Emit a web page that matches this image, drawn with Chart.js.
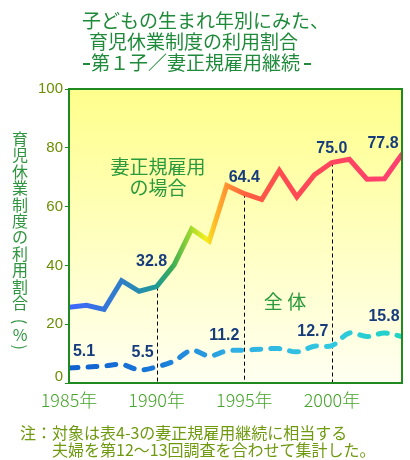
<!DOCTYPE html>
<html>
<head>
<meta charset="utf-8">
<script src="https://cdn.jsdelivr.net/npm/chart.js@4.4.1/dist/chart.umd.min.js"></script>
<style>
  html, body { margin: 0; padding: 0; background: #ffffff; }
  #wrap { width: 410px; height: 460px; position: relative; }
</style>
</head>
<body>
<div id="wrap"><canvas id="chart" width="410" height="460"></canvas></div>
<script>
// données
const years = [1985, 1986, 1987, 1988, 1989, 1990, 1991, 1992, 1993, 1994,
               1995, 1996, 1997, 1998, 1999, 2000, 2001, 2002, 2003, 2004];
const regularValues = [25.8, 26.4, 25.0, 34.8, 31.2, 32.8, 40.2, 52.4, 48.3, 67.2,
                       64.4, 62.4, 72.3, 63.3, 70.8, 75.0, 76.1, 69.3, 69.5, 77.8];
const allValues = [5.1, 5.4, 5.8, 6.3, 4.5, 5.5, 7.5, 11.1, 9.2, 10.9,
                   11.2, 11.5, 11.7, 10.6, 12.5, 12.7, 17.0, 15.8, 17.0, 15.8];
const xTicks = [1985, 1990, 1995, 2000];
const yTicks = [0, 20, 40, 60, 80, 100];
const regularLabelYears = [1990, 1995, 2000, 2004];
const allLabelYears = [1985, 1990, 1995, 2000, 2004];
const markerYears = [1990, 1995, 2000];

const titleLines = ['子どもの生まれ年別にみた、', '育児休業制度の利用割合', '第１子／妻正規雇用継続'];
const yTitleChars = ['育', '児', '休', '業', '制', '度', 'の', '利', '用', '割', '合', '(', '%', ')'];
const noteLines = ['注：対象は表4-3の妻正規雇用継続に相当する', '夫婦を第12～13回調査を合わせて集計した。'];

const GREEN = '#1e8a3a';
const JP = '"Noto Sans CJK JP", "Noto Sans", sans-serif';
const TICK_FONT = '"Liberation Sans", Arial, sans-serif';

function hGradient(chart, stops) {
  const { ctx, chartArea } = chart;
  if (!chartArea) return null;
  const g = ctx.createLinearGradient(chartArea.left, 0, chartArea.right, 0);
  stops.forEach(s => g.addColorStop(s[0], s[1]));
  return g;
}

// Fond, cadre, textes et étiquettes
const decorPlugin = {
  id: 'decor',
  beforeDraw(chart) {
    const { ctx, chartArea: a } = chart;
    ctx.save();
    const g = ctx.createLinearGradient(0, a.top, 0, a.bottom);
    g.addColorStop(0, '#ffff8c');
    g.addColorStop(1, '#fffff2');
    ctx.fillStyle = g;
    ctx.fillRect(a.left, a.top, a.right - a.left, a.bottom - a.top);
    ctx.restore();
  },
  beforeDatasetsDraw(chart) {
    const { ctx, chartArea: a, scales } = chart;
    ctx.save();
    ctx.strokeStyle = '#000000';
    ctx.lineWidth = 1;
    ctx.setLineDash([4, 3]);
    markerYears.forEach(yr => {
      const i = years.indexOf(yr);
      const x = Math.round(scales.x.getPixelForValue(yr)) + 0.5;
      ctx.beginPath();
      ctx.moveTo(x, scales.y.getPixelForValue(regularValues[i]));
      ctx.lineTo(x, a.bottom);
      ctx.stroke();
    });
    ctx.restore();
  },
  afterDatasetsDraw(chart) {
    const { ctx, chartArea: a, scales } = chart;
    ctx.save();
    // cadre vert
    ctx.strokeStyle = '#1f8a1f';
    ctx.lineWidth = 2;
    ctx.strokeRect(a.left, a.top, a.right - a.left, a.bottom - a.top);

    // étiquettes de valeurs
    ctx.fillStyle = '#163c7c';
    ctx.font = 'bold 16px ' + TICK_FONT;
    ctx.textAlign = 'center';
    ctx.textBaseline = 'middle';
    const regOff = { 1990: [-5, -25], 1995: [0, -16], 2000: [0, -14], 2004: [-19, -11] };
    regularLabelYears.forEach(yr => {
      const i = years.indexOf(yr);
      const x = scales.x.getPixelForValue(yr) + regOff[yr][0];
      const y = scales.y.getPixelForValue(regularValues[i]) + regOff[yr][1];
      ctx.fillText(regularValues[i].toFixed(1), x, y);
    });
    const allOff = { 1985: [15, -16], 1990: [-14, -14], 1995: [-20, -14], 2000: [-19, -14], 2004: [-18, -20] };
    allLabelYears.forEach(yr => {
      const i = years.indexOf(yr);
      const x = scales.x.getPixelForValue(yr) + allOff[yr][0];
      const y = scales.y.getPixelForValue(allValues[i]) + allOff[yr][1];
      ctx.fillText(allValues[i].toFixed(1), x, y);
    });

    // libellés des séries
    ctx.fillStyle = '#2a9a3c';
    ctx.font = '19px ' + JP;
    ctx.fillText('妻正規雇用', 158, 167);
    ctx.fillText('の場合', 158, 188);
    ctx.fillText('全 体', 285, 302);

    // le « 0 » de l'axe Y est un peu remonté dans l'original
    ctx.fillStyle = '#6b8f00';
    ctx.font = '15px ' + TICK_FONT;
    ctx.textAlign = 'right';
    ctx.fillText('0', 63, scales.y.getPixelForValue(0) - 6);
    ctx.restore();
  },
  afterDraw(chart) {
    const { ctx } = chart;
    ctx.save();
    // titre
    ctx.fillStyle = GREEN;
    ctx.font = '19px ' + JP;
    ctx.textAlign = 'left';
    ctx.textBaseline = 'middle';
    ctx.fillText(titleLines[0], 82, 21);
    ctx.fillText(titleLines[1], 89, 42);
    ctx.fillText(titleLines[2], 91, 63);
    ctx.fillRect(83, 63, 7, 2);
    ctx.fillRect(304, 63, 7, 2);

    // titre vertical de l'axe Y
    ctx.fillStyle = '#2f9440';
    ctx.font = '16px ' + JP;
    ctx.textAlign = 'center';
    yTitleChars.forEach((c, i) => {
      let y = 139 + i * 16.4;
      if (c === '(' || c === ')') {
        ctx.save();
        ctx.translate(20, c === '(' ? y + 2 : y - 5);
        ctx.rotate(Math.PI / 2);
        ctx.fillText(c, 0, 0);
        ctx.restore();
      } else {
        ctx.fillText(c, 20, i === 12 ? y - 1 : y);
      }
    });

    // note
    ctx.fillStyle = '#6f9a10';
    ctx.font = '16px ' + JP;
    ctx.textAlign = 'left';
    ctx.fillText(noteLines[0], 20, 433);
    ctx.fillText(noteLines[1], 52, 450);
    ctx.restore();
  }
};

new Chart(document.getElementById('chart'), {
  type: 'line',
  data: {
    labels: years,
    datasets: [{
      data: years.map((yr, i) => ({ x: yr, y: regularValues[i] })),
      borderWidth: 5,
      tension: 0,
      pointRadius: 0,
      borderCapStyle: 'round',
      borderColor: ctx => hGradient(ctx.chart, [
        [0, '#3f66ff'], [0.16, '#2f7fc8'], [0.26, '#1f9a98'], [0.31, '#3aac55'],
        [0.37, '#a8dc2c'], [0.41, '#f4ee1a'], [0.44, '#ffb82a'], [0.48, '#ff8a34'],
        [0.53, '#ff6040'], [0.65, '#ff4a52'], [1, '#ff3f72']
      ])
    }, {
      data: years.map((yr, i) => ({ x: yr, y: allValues[i] })),
      borderWidth: 5,
      tension: 0.35,
      pointRadius: 0,
      borderCapStyle: 'round',
      borderDash: [9, 10],
      borderColor: ctx => hGradient(ctx.chart, [
        [0, '#1060d0'], [0.26, '#1878d8'], [0.5, '#30b0e4'], [0.78, '#30c8e0'], [1, '#20d4c4']
      ])
    }]
  },
  options: {
    responsive: false,
    animation: false,
    layout: { padding: { top: 89, right: 8, left: 0, bottom: 0 } },
    plugins: {
      legend: { display: false },
      tooltip: { enabled: false }
    },
    scales: {
      x: {
        type: 'linear',
        min: 1985,
        max: 2004,
        grid: { display: false },
        border: { display: false },
        afterFit: s => { s.height = 77; },
        afterBuildTicks: s => { s.ticks = xTicks.map(v => ({ value: v })); },
        ticks: {
          padding: -2,
          color: '#45a52a',
          font: { size: 18, family: JP, weight: 300 },
          callback: v => v + '年'
        }
      },
      y: {
        min: 0,
        max: 100,
        afterFit: s => { s.width = 69; },
        afterBuildTicks: s => { s.ticks = yTicks.map(v => ({ value: v })); },
        border: { display: false },
        grid: { drawOnChartArea: false, tickLength: 4, color: '#1f8a1f', lineWidth: 1 },
        ticks: {
          padding: 2,
          color: '#6b8f00',
          font: { size: 15, family: TICK_FONT },
          callback: v => (v === 0 ? '' : v)
        }
      }
    }
  },
  plugins: [decorPlugin]
});
</script>
</body>
</html>
